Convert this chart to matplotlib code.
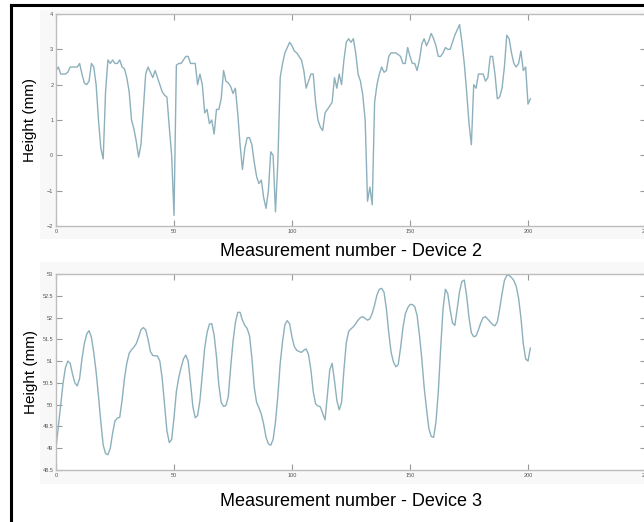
import numpy as np
import matplotlib.pyplot as plt
from matplotlib.lines import Line2D
from matplotlib.patches import Rectangle

plt.rcParams['font.family'] = ['Liberation Sans', 'DejaVu Sans']

# Device 2 heights (mm), measurement 0..201
dev2 = [2.4, 2.5, 2.3, 2.3, 2.3, 2.35, 2.5, 2.5, 2.5, 2.5,
        2.6, 2.3, 2.05, 2.0, 2.1, 2.6, 2.5, 2.0, 1.0, 0.2,
        -0.1, 1.8, 2.7, 2.6, 2.7, 2.6, 2.6, 2.7, 2.5, 2.45,
        2.2, 1.8, 1.0, 0.75, 0.4, -0.05, 0.3, 1.3, 2.3, 2.5,
        2.35, 2.2, 2.4, 2.2, 2.0, 1.8, 1.7, 1.65, 0.8, 0.0,
        -1.7, 2.55, 2.6, 2.6, 2.7, 2.8, 2.8, 2.6, 2.6, 2.6,
        2.0, 2.3, 2.0, 1.2, 1.3, 0.9, 1.0, 0.6, 1.3, 1.3,
        1.6, 2.4, 2.1, 2.05, 1.95, 1.75, 1.9, 1.2, 0.3, -0.4,
        0.2, 0.5, 0.5, 0.3, -0.2, -0.6, -0.8, -0.7, -1.2, -1.5,
        -1.0, 0.1, 0.0, -1.6, -0.2, 2.2, 2.6, 2.9, 3.05, 3.2,
        3.1, 2.95, 2.9, 2.8, 2.7, 2.4, 1.9, 2.1, 2.3, 2.3,
        1.5, 1.0, 0.8, 0.7, 1.2, 1.3, 1.4, 1.5, 2.2, 1.9,
        2.3, 2.0, 2.7, 3.2, 3.3, 3.2, 3.3, 2.9, 2.3, 2.1,
        1.7, 1.0, -1.3, -0.9, -1.4, 1.5, 2.0, 2.3, 2.5, 2.35,
        2.4, 2.8, 2.9, 2.9, 2.9, 2.85, 2.8, 2.6, 2.6, 3.05,
        2.8, 2.6, 2.6, 2.4, 2.7, 3.15, 3.3, 3.1, 3.25, 3.45,
        3.3, 3.1, 2.8, 2.8, 2.9, 3.05, 3.0, 3.0, 3.2, 3.4,
        3.55, 3.7, 3.2, 2.6, 1.8, 0.9, 0.3, 2.0, 1.9, 2.3,
        2.3, 2.3, 2.1, 2.2, 2.8, 2.8, 2.3, 1.6, 1.65, 1.9,
        2.5, 3.4, 3.3, 2.9, 2.6, 2.5, 2.6, 2.95, 2.4, 2.5,
        1.45, 1.6]

# Device 3 heights (mm), measurement 0..201
dev3 = [49.0, 49.5, 50.0, 50.5, 50.85, 51.0, 50.95, 50.7, 50.5, 50.43,
        50.6, 51.05, 51.4, 51.62, 51.7, 51.55, 51.2, 50.75, 50.2, 49.6,
        49.07, 48.88, 48.85, 49.0, 49.35, 49.63, 49.69, 49.71, 50.1, 50.6,
        50.95, 51.18, 51.26, 51.32, 51.4, 51.55, 51.72, 51.77, 51.72, 51.5,
        51.22, 51.13, 51.12, 51.12, 51.0, 50.6, 50.0, 49.4, 49.13, 49.2,
        49.7, 50.3, 50.62, 50.85, 51.05, 51.14, 51.0, 50.5, 49.95, 49.7,
        49.75, 50.1, 50.7, 51.3, 51.65, 51.85, 51.86, 51.6, 51.1, 50.45,
        50.05, 49.96, 49.98, 50.18, 50.85, 51.45, 51.88, 52.12, 52.12, 51.94,
        51.82, 51.75, 51.58, 51.08, 50.4, 50.05, 49.93, 49.78, 49.55, 49.25,
        49.1, 49.07, 49.2, 49.6, 50.2, 50.95, 51.45, 51.84, 51.93, 51.85,
        51.55, 51.33, 51.25, 51.22, 51.2, 51.25, 51.28, 51.15, 50.8, 50.3,
        50.02, 49.97, 49.95, 49.8, 49.65, 50.22, 50.8, 50.95, 50.55, 50.1,
        49.88, 50.05, 50.8, 51.42, 51.68, 51.74, 51.79, 51.86, 51.94, 52.0,
        52.02, 51.98, 51.94, 51.97, 52.1, 52.29, 52.52, 52.65, 52.67, 52.58,
        52.2, 51.65, 51.2, 50.98, 50.87, 50.92, 51.3, 51.76, 52.08, 52.22,
        52.3, 52.3, 52.25, 52.05, 51.6, 51.05, 50.4, 49.9, 49.45, 49.27,
        49.25, 49.6, 50.3, 51.3, 52.2, 52.65, 52.55, 52.18, 51.88, 51.82,
        52.2, 52.6, 52.83, 52.86, 52.5, 52.0, 51.65, 51.56, 51.58, 51.72,
        51.88, 52.0, 52.02, 51.96, 51.9, 51.84, 51.81, 51.9, 52.2, 52.55,
        52.85, 52.97, 52.97, 52.92, 52.85, 52.72, 52.45, 52.0, 51.4, 51.05,
        51.0, 51.3]

xticks = [0, 50, 100, 150, 200, 250]
yticks2 = [-2, -1, 0, 1, 2, 3, 4]
yticks3 = [48.5, 49, 49.5, 50, 50.5, 51, 51.5, 52, 52.5, 53]
ytl3 = ['48.5', '49', '49.5', '50', '50.5', '51', '51.5', '52', '52.5', '53']

line_col = '#8cb0bc'
spine_col = '#bdbdbd'

fig = plt.figure(figsize=(6.44, 5.22), dpi=100)

# faint screenshot panels behind each plot
fig.add_artist(Rectangle((40 / 644, 1 - 239 / 522), 1, 229 / 522,
                         transform=fig.transFigure, fc='#f8f8f8', ec='none', zorder=0))
fig.add_artist(Rectangle((40 / 644, 1 - 484 / 522), 1, 222 / 522,
                         transform=fig.transFigure, fc='#f8f8f8', ec='none', zorder=0))

ax1 = fig.add_axes([56 / 644, 1 - 226 / 522, 590 / 644, 212 / 522])
ax2 = fig.add_axes([56 / 644, 1 - 470 / 522, 590 / 644, 196 / 522])


def style(ax):
    ax.set_facecolor('white')
    for s in ax.spines.values():
        s.set_color(spine_col)
        s.set_linewidth(1.0)
    ax.tick_params(direction='in', length=4, width=0.8, color='#999999',
                   labelsize=4, labelcolor='#555555', top=True, right=True, pad=2)
    ax.set_xlim(0, 250)
    ax.set_xticks(xticks)


x2 = np.arange(len(dev2))
ax1.plot(x2, dev2, color=line_col, lw=1.0)
style(ax1)
ax1.set_ylim(-2, 4)
ax1.set_yticks(yticks2)
ax1.set_xlabel('Measurement number - Device 2', fontsize=13, labelpad=7)
ax1.set_ylabel('Height (mm)', fontsize=11, labelpad=7)

x3 = np.arange(len(dev3))
ax2.plot(x3, dev3, color=line_col, lw=1.0)
style(ax2)
ax2.set_ylim(48.5, 53)
ax2.set_yticks(yticks3)
ax2.set_yticklabels(ytl3)
ax2.set_xlabel('Measurement number - Device 3', fontsize=13, labelpad=11)
ax2.set_ylabel('Height (mm)', fontsize=11, labelpad=3)

# black frame of the screenshot (top and left)
fig.add_artist(Line2D([11 / 644, 1], [1 - 5 / 522, 1 - 5 / 522],
                      transform=fig.transFigure, color='black', lw=2.2))
fig.add_artist(Line2D([11 / 644, 11 / 644], [0, 1 - 5 / 522],
                      transform=fig.transFigure, color='black', lw=2.2))

fig.savefig('out.png', dpi=100)
